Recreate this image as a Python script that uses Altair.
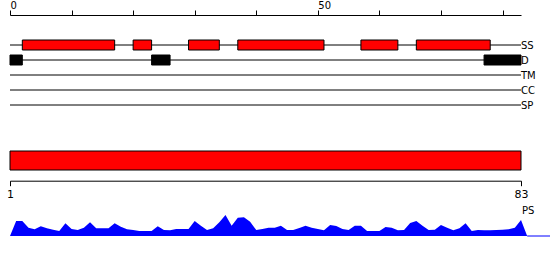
import altair as alt
import pandas as pd

# ---- data ----
seq_start = 0
seq_end = 83
axis_ticks = [0, 10, 20, 30, 40, 50, 60, 70, 80]
axis_labels = [0, 50]

tracks = ["SS", "D", "TM", "CC", "SP"]

ss_start = [2, 20, 29, 37, 57, 66]
ss_end = [17, 23, 34, 51, 63, 78]

d_start = [0, 23, 77]
d_end = [2, 26, 83]

domain_start = 1
domain_end = 83

ps_pos = list(range(0, 85))
ps_score = [0.0,
            0.60, 0.60, 0.33, 0.27, 0.39, 0.31, 0.25, 0.20, 0.51, 0.28,
            0.24, 0.33, 0.55, 0.31, 0.31, 0.31, 0.51, 0.37, 0.27, 0.24,
            0.20, 0.20, 0.20, 0.39, 0.24, 0.23, 0.28, 0.28, 0.28, 0.60,
            0.41, 0.24, 0.31, 0.55, 0.84, 0.41, 0.73, 0.75, 0.57, 0.24,
            0.28, 0.33, 0.33, 0.41, 0.24, 0.24, 0.32, 0.41, 0.33, 0.28,
            0.23, 0.44, 0.40, 0.28, 0.24, 0.41, 0.41, 0.20, 0.20, 0.20,
            0.36, 0.33, 0.23, 0.24, 0.52, 0.60, 0.41, 0.24, 0.25, 0.44,
            0.33, 0.23, 0.31, 0.51, 0.20, 0.24, 0.23, 0.23, 0.24, 0.25,
            0.27, 0.33, 0.64,
            0.0]

# ---- tables ----
track_df = pd.DataFrame({"track": tracks, "start": seq_start, "end": seq_end})
ss_df = pd.DataFrame({"track": "SS", "start": ss_start, "end": ss_end})
d_df = pd.DataFrame({"track": "D", "start": d_start, "end": d_end})
dom_df = pd.DataFrame({"row": ["domain"], "start": [domain_start], "end": [domain_end]})
ps_df = pd.DataFrame({"pos": ps_pos, "score": ps_score})
ps_base_df = pd.DataFrame({"start": [seq_end + 1], "end": [seq_end + 5], "score": [0.0]})
ps_label_df = pd.DataFrame({"pos": [seq_end], "score": [1.0], "label": ["PS"]})

W, H = 511, 221
FONT = "DejaVu Sans"

x_top = alt.Scale(domain=[seq_start, seq_end], nice=False, zero=False)
x_dom = alt.Scale(domain=[domain_start, domain_end], nice=False, zero=False)
y_tracks = alt.Scale(type="point", domain=tracks, range=[30, 90], padding=0)
y_dom = alt.Scale(type="point", domain=["domain"], range=[145.5, 145.5], padding=0)
y_ps = alt.Scale(domain=[0, 1], range=[H, H - 25], nice=False, zero=True)

label_expr = " || ".join(f"datum.value == {v}" for v in axis_labels)

lines = alt.Chart(track_df).mark_rule(color="black", strokeWidth=1).encode(
    x=alt.X("start:Q", scale=x_top, title=None,
            axis=alt.Axis(orient="top", values=axis_ticks,
                          labelExpr=f"({label_expr}) ? datum.label : ''",
                          tickSize=5, labelPadding=1.5, labelAlign="left",
                          labelBaseline="alphabetic",
                          labelFlush=False, labelOverlap=False, grid=False,
                          domainColor="black", tickColor="black",
                          labelColor="black", labelFontSize=10, labelFont=FONT)),
    x2="end:Q",
    y=alt.Y("track:N", scale=y_tracks, axis=None),
)

track_labels = alt.Chart(track_df).mark_text(
    align="left", baseline="middle", dx=0, dy=1, fontSize=10, font=FONT, color="black"
).encode(
    x=alt.X("end:Q", scale=x_top, axis=None),
    y=alt.Y("track:N", scale=y_tracks, axis=None),
    text="track:N",
)

ss_boxes = alt.Chart(ss_df).mark_bar(size=10, color="#ff0000", stroke="black", strokeWidth=1).encode(
    x=alt.X("start:Q", scale=x_top, axis=None),
    x2="end:Q",
    y=alt.Y("track:N", scale=y_tracks, axis=None),
)

d_boxes = alt.Chart(d_df).mark_bar(size=10, color="black", stroke="black", strokeWidth=1).encode(
    x=alt.X("start:Q", scale=x_top, axis=None),
    x2="end:Q",
    y=alt.Y("track:N", scale=y_tracks, axis=None),
)

dom_bar = alt.Chart(dom_df).mark_bar(size=19, color="#ff0000", stroke="black", strokeWidth=1).encode(
    x=alt.X("start:Q", scale=x_dom, title=None,
            axis=alt.Axis(orient="bottom", values=[domain_start, domain_end],
                          offset=-55.3, tickSize=5, labelPadding=3,
                          labelFlush=False, labelOverlap=False, grid=False,
                          domainColor="black", tickColor="black",
                          labelColor="black", labelFontSize=11, labelFont=FONT)),
    x2="end:Q",
    y=alt.Y("row:N", scale=y_dom, axis=None),
)

ps_area = alt.Chart(ps_df).mark_area(color="#0000ff", clip=False, interpolate="linear").encode(
    x=alt.X("pos:Q", scale=x_top, axis=None),
    y=alt.Y("score:Q", scale=y_ps, axis=None),
)

ps_base = alt.Chart(ps_base_df).mark_rule(color="#0000ff", strokeWidth=1, clip=False).encode(
    x=alt.X("start:Q", scale=x_top, axis=None),
    x2="end:Q",
    y=alt.Y("score:Q", scale=y_ps, axis=None),
)

ps_label = alt.Chart(ps_label_df).mark_text(
    align="left", baseline="middle", dx=1, fontSize=10, font=FONT, color="black"
).encode(
    x=alt.X("pos:Q", scale=x_top, axis=None),
    y=alt.Y("score:Q", scale=y_ps, axis=None),
    text="label:N",
)

chart = alt.layer(
    lines, ss_boxes, d_boxes, track_labels, dom_bar, ps_area, ps_base, ps_label
).resolve_scale(
    x="independent", y="independent"
).properties(
    width=W, height=H,
    padding={"left": 10, "top": 15, "right": 550 - 10 - W, "bottom": 260 - 15 - H},
    autosize=alt.AutoSizeParams(type="none"),
    background="white",
).configure_view(stroke=None)

chart.save("out.html", embed_options={"renderer": "svg", "actions": False})
